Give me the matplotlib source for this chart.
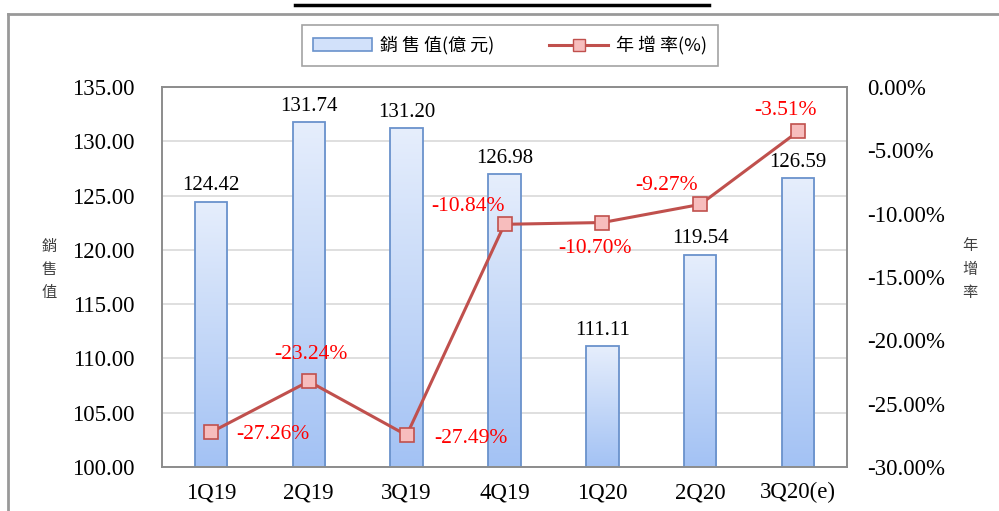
import numpy as np
import matplotlib.pyplot as plt
from matplotlib.lines import Line2D
from matplotlib.patches import Patch
from matplotlib.colors import LinearSegmentedColormap

plt.rcParams['font.family'] = ['Liberation Serif', 'Noto Sans CJK TC', 'DejaVu Sans']

quarters = ['1Q19', '2Q19', '3Q19', '4Q19', '1Q20', '2Q20', '3Q20(e)']
sales = [124.42, 131.74, 131.20, 126.98, 111.11, 119.54, 126.59]
growth = [-27.26, -23.24, -27.49, -10.84, -10.70, -9.27, -3.51]

# label offsets (pixels) for the growth labels
g_off = [(62, -2), (2, 27), (64, -3), (-36, 18), (-7, -26), (-34, 19), (-13, 21)]

W, H = 999, 511
fig = plt.figure(figsize=(W / 100, H / 100), dpi=100)
ax = fig.add_axes([162 / W, 1 - 467 / H, 685 / W, 380 / H])
ax2 = ax.twinx()

x = np.arange(len(quarters))
bw = 0.33
cmap = LinearSegmentedColormap.from_list('bar', ['#a3c2f4', '#e6eefc'])
grad = np.linspace(0, 1, 256).reshape(-1, 1)

bars = ax.bar(x, sales, width=bw, facecolor='none', edgecolor='#6a92cc',
              linewidth=1.3, zorder=3)
for b in bars:
    x0, y0 = b.get_x(), 100
    im = ax.imshow(grad, cmap=cmap, aspect='auto', origin='lower',
                   extent=[x0, x0 + b.get_width(), y0, b.get_height()], zorder=2)
    im.set_clip_path(b)

ax.set_xlim(-0.5, len(quarters) - 0.5)
ax.set_ylim(100, 135)
ax.set_yticks(np.arange(100, 136, 5))
ax.set_yticklabels([f'{v:.2f}' for v in np.arange(100, 136, 5)])
ax.set_xticks(x)
ax.set_xticklabels(quarters)
ax.yaxis.grid(True, color='#d9d9d9', linewidth=1.2, zorder=0)
ax.set_axisbelow(True)
ax.tick_params(axis='y', length=0, pad=19.5, labelsize=16.5)
ax.tick_params(axis='x', length=0, pad=11, labelsize=16.5)

for xi, v in zip(x, sales):
    ax.annotate(f'{v:.2f}', (xi, v), xytext=(0, 16), textcoords='offset pixels',
                ha='center', va='center', fontsize=15, zorder=6)

ax2.plot(x, growth, color='#c0504d', linewidth=2.2, marker='s', markersize=9.5,
         markerfacecolor='#f7bdbd', markeredgecolor='#c0504d',
         markeredgewidth=1.2, zorder=5)
ax2.set_ylim(-30, 0)
ax2.set_yticks(np.arange(-30, 1, 5))
ax2.set_yticklabels([f'{v:.2f}%' for v in np.arange(-30, 1, 5)])
ax2.tick_params(axis='y', length=0, pad=14.4, labelsize=16.5)

for xi, v, (dx, dy) in zip(x, growth, g_off):
    ax2.annotate(f'{v:.2f}%', (xi, v), xytext=(dx, dy), textcoords='offset pixels',
                 ha='center', va='center', fontsize=15.5, color='#ff0000', zorder=6)

for a in (ax, ax2):
    for s in a.spines.values():
        s.set_color('#8c8c8c')
        s.set_linewidth(1.2)

ax.set_ylabel('銷\n售\n值', rotation=0, fontsize=11, color='#404040',
              family=['Noto Sans CJK TC'], linespacing=1.5, va='center')
ax.yaxis.set_label_coords(-0.165, 0.52)
ax2.set_ylabel('年\n增\n率', rotation=0, fontsize=11, color='#404040',
               family=['Noto Sans CJK TC'], linespacing=1.5, va='center')
ax2.yaxis.set_label_coords(1.18, 0.52)

handles = [Patch(facecolor='#d2e1fa', edgecolor='#6a92cc', linewidth=1.2),
           Line2D([], [], color='#c0504d', linewidth=2.2, marker='s', markersize=9,
                  markerfacecolor='#f7bdbd', markeredgecolor='#c0504d')]
leg = fig.legend(handles, ['銷 售 值(億 元)', '年 增 率(%)'], loc='center',
                 bbox_to_anchor=(510 / W, 1 - 45.5 / H), ncol=2, frameon=True,
                 fancybox=False, edgecolor='#8c8c8c',
                 prop={'family': ['Noto Sans CJK TC'], 'size': 13},
                 handlelength=3.3, handletextpad=0.45, columnspacing=3.0,
                 borderpad=0.6, borderaxespad=0)
leg.get_frame().set_linewidth(1.2)

# outer frame and clipped title underline
fig.add_artist(Line2D([8 / W, 1], [1 - 14 / H, 1 - 14 / H], color='#999999', linewidth=2))
fig.add_artist(Line2D([8 / W, 8 / W], [0, 1 - 14 / H], color='#999999', linewidth=2))
fig.add_artist(Line2D([295 / W, 709 / W], [1 - 5 / H, 1 - 5 / H], color='black', linewidth=2.5))

fig.savefig('out.png', dpi=100)
